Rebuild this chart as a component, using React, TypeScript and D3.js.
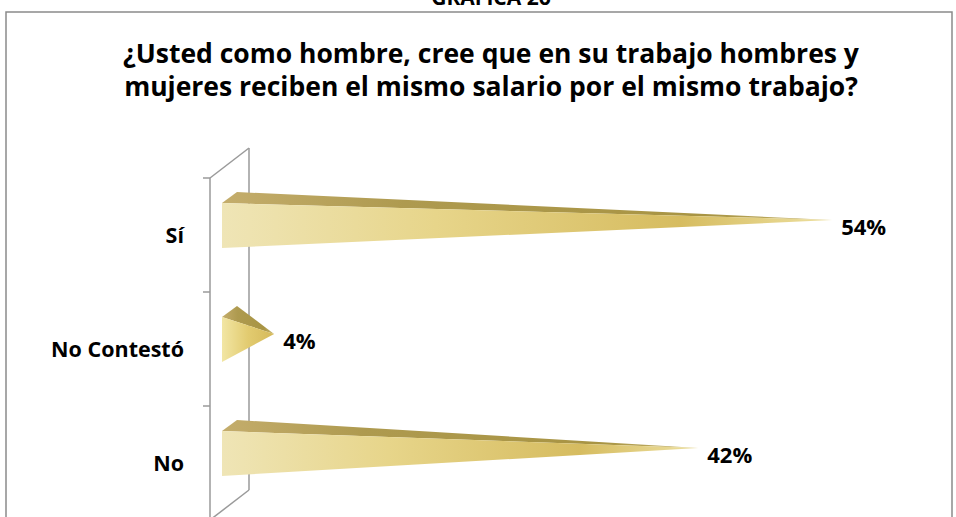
import React from "react";
import * as d3 from "d3";

const categories: string[] = ["Sí", "No Contestó", "No"];
const values: number[] = [54, 4, 42];
const valueLabels: string[] = ["54%", "4%", "42%"];
const titleLines: string[] = [
  "¿Usted como hombre, cree que en su trabajo hombres y",
  "mujeres reciben el mismo salario por el mismo trabajo?",
];
const headerText = "GRAFICA 26";

const W = 956;
const H = 517;
const FONT = "'Open Sans', 'Noto Sans', sans-serif";

export default function App() {
  const axisX = 210;
  const depthX = 39;
  const depthY = -30;
  const y = d3.scaleBand<string>().domain(categories).range([178, 520]).padding(0);
  const baseX = 222;
  const barDx = 15;
  const barDy = -11;
  const halfH = 22.5;
  const x = d3.scaleLinear().domain([0, 60]).range([baseX + barDx / 2, baseX + barDx / 2 + 669.6]);

  const tickYs = [...categories.map((c) => y(c) as number), 520];
  const gridColor = "#9a9a9a";

  return (
    <svg
      width={W}
      height={H}
      style={{ position: "absolute", left: 0, top: 0, background: "#fff" }}
      fontFamily={FONT}
    >
      <defs>
        <linearGradient id="frontG" x1="0" y1="0" x2="1" y2="0">
          <stop offset="0" stopColor="#efe5b6" />
          <stop offset="0.35" stopColor="#e7d58a" />
          <stop offset="0.75" stopColor="#d6bc60" />
          <stop offset="1" stopColor="#ede0a0" />
        </linearGradient>
        <linearGradient id="topG" x1="0" y1="0" x2="1" y2="0">
          <stop offset="0" stopColor="#c4ad6c" />
          <stop offset="0.3" stopColor="#ae9a4f" />
          <stop offset="0.8" stopColor="#a89443" />
          <stop offset="1" stopColor="#cbb972" />
        </linearGradient>
        <linearGradient id="frontSmall" x1="0" y1="0" x2="1" y2="0">
          <stop offset="0" stopColor="#f2e6a4" />
          <stop offset="0.5" stopColor="#e2cb70" />
          <stop offset="1" stopColor="#d5b95a" />
        </linearGradient>
      </defs>

      {/* outer frame */}
      <rect x={6} y={12} width={946} height={520} fill="none" stroke="#8a8a8a" strokeWidth={1.5} />

      {/* header (cut by the top edge as in the source) */}
      <text x={491} y={5} textAnchor="middle" fontSize={21} fontWeight="bold" fill="#000">
        {headerText}
      </text>

      {/* title as one text block with two lines */}
      <text x={491} y={63} textAnchor="middle" fontSize={26.5} fontWeight="bold" fill="#000">
        {titleLines.map((t, i) => (
          <tspan key={i} x={491} dy={i === 0 ? 0 : 33}>
            {t}
          </tspan>
        ))}
      </text>

      {/* 3D side wall of the category axis */}
      <g stroke={gridColor} strokeWidth={1.5} fill="none">
        <line x1={axisX} y1={178} x2={axisX} y2={H + 5} />
        <line x1={axisX} y1={178} x2={axisX + depthX} y2={178 + depthY} />
        <line x1={axisX + depthX} y1={178 + depthY} x2={axisX + depthX} y2={520 + depthY} />
        <line x1={axisX + depthX} y1={520 + depthY} x2={axisX} y2={520} />
        {tickYs.map((ty, i) => (
          <line key={i} x1={axisX - 7} y1={ty} x2={axisX} y2={ty} />
        ))}
      </g>

      {/* bars as 3D pyramids */}
      {categories.map((c, i) => {
        const bc = (y(c) as number) + y.bandwidth() / 2;
        const fc = bc - 9.5;
        const yTop = fc - halfH;
        const yBot = fc + halfH;
        const tipX = x(values[i]);
        const tipY = fc + barDy / 2;
        const front = `M${baseX},${yTop}L${baseX},${yBot}L${tipX},${tipY}Z`;
        const top = `M${baseX},${yTop}L${baseX + barDx},${yTop + barDy}L${tipX},${tipY}Z`;
        const small = values[i] < 10;
        return (
          <g key={c}>
            <path d={top} fill="url(#topG)" />
            <path d={front} fill={small ? "url(#frontSmall)" : "url(#frontG)"} />
            <text x={tipX + 9} y={tipY + 15} fontSize={22} fontWeight="bold" fill="#000">
              {valueLabels[i]}
            </text>
            <text x={184} y={bc + 7.5} textAnchor="end" fontSize={21.5} fontWeight="bold" fill="#000">
              {c}
            </text>
          </g>
        );
      })}
    </svg>
  );
}
